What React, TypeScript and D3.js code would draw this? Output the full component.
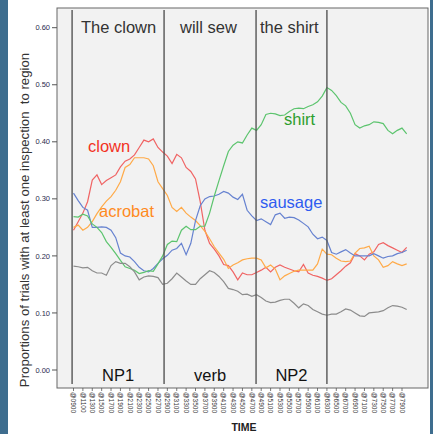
import React from "react";
import * as d3 from "d3";

const times: number[] = d3.range(900, 8001, 100);

const clown = [0.245,0.26,0.275,0.295,0.333,0.342,0.325,0.332,0.337,0.342,0.356,0.366,0.37,0.377,0.39,0.403,0.40,0.405,0.39,0.382,0.375,0.362,0.378,0.372,0.355,0.348,0.335,0.295,0.245,0.222,0.212,0.2,0.185,0.183,0.172,0.158,0.17,0.167,0.167,0.171,0.175,0.18,0.172,0.18,0.184,0.18,0.177,0.174,0.172,0.185,0.17,0.166,0.164,0.161,0.157,0.16,0.167,0.174,0.182,0.188,0.204,0.2,0.193,0.203,0.207,0.22,0.223,0.218,0.214,0.21,0.206,0.215];
const acrobat = [0.25,0.254,0.245,0.25,0.26,0.274,0.286,0.296,0.304,0.315,0.33,0.355,0.36,0.372,0.372,0.372,0.37,0.358,0.33,0.318,0.306,0.285,0.278,0.285,0.275,0.268,0.262,0.253,0.243,0.23,0.216,0.205,0.194,0.178,0.184,0.188,0.193,0.195,0.196,0.196,0.193,0.179,0.184,0.177,0.158,0.165,0.169,0.173,0.175,0.175,0.175,0.175,0.186,0.212,0.203,0.202,0.196,0.191,0.19,0.191,0.205,0.213,0.214,0.217,0.2,0.193,0.18,0.183,0.19,0.186,0.183,0.186];
const sausage = [0.31,0.297,0.285,0.28,0.25,0.25,0.251,0.25,0.245,0.232,0.205,0.2,0.198,0.19,0.18,0.174,0.172,0.178,0.187,0.195,0.201,0.21,0.213,0.222,0.202,0.222,0.262,0.288,0.3,0.304,0.305,0.308,0.313,0.31,0.303,0.299,0.308,0.28,0.27,0.262,0.265,0.26,0.255,0.272,0.275,0.266,0.268,0.267,0.263,0.257,0.251,0.238,0.23,0.233,0.227,0.206,0.203,0.207,0.211,0.205,0.2,0.2,0.2,0.2,0.204,0.2,0.196,0.199,0.2,0.204,0.206,0.21];
const shirt = [0.269,0.268,0.273,0.27,0.256,0.25,0.241,0.225,0.215,0.204,0.192,0.181,0.178,0.175,0.169,0.171,0.174,0.173,0.186,0.2,0.22,0.226,0.225,0.245,0.252,0.246,0.246,0.252,0.252,0.275,0.305,0.332,0.358,0.383,0.394,0.4,0.398,0.412,0.424,0.42,0.43,0.448,0.45,0.449,0.446,0.447,0.453,0.458,0.459,0.458,0.462,0.465,0.47,0.48,0.495,0.49,0.481,0.469,0.463,0.45,0.43,0.424,0.428,0.43,0.435,0.434,0.432,0.42,0.414,0.42,0.424,0.414];
const other = [0.182,0.181,0.179,0.18,0.174,0.17,0.17,0.166,0.183,0.19,0.187,0.187,0.181,0.172,0.158,0.163,0.165,0.164,0.162,0.15,0.152,0.16,0.17,0.163,0.156,0.15,0.15,0.16,0.167,0.174,0.171,0.164,0.155,0.143,0.141,0.138,0.132,0.133,0.129,0.132,0.127,0.121,0.118,0.119,0.122,0.124,0.124,0.117,0.109,0.116,0.113,0.106,0.102,0.098,0.096,0.098,0.098,0.102,0.107,0.105,0.1,0.095,0.094,0.1,0.101,0.102,0.104,0.109,0.113,0.112,0.11,0.106];

const seriesNames = ["clown", "acrobat", "sausage", "shirt", "other"];
const seriesValues = [clown, acrobat, sausage, shirt, other];
const lineColors = ["#f06464", "#ffaa48", "#6682d0", "#5cc46e", "#8c8c8c"];

const yTicks = [0, 0.1, 0.2, 0.3, 0.4, 0.5, 0.6];
const xTickTimes: number[] = d3.range(900, 7901, 200);

const regionBounds = [870, 2830, 4790, 6300];
const topPhrases = ["The clown", "will sew", "the shirt"];
const bottomLabels = ["NP1", "verb", "NP2"];

const seriesLabels = ["clown", "acrobat", "shirt", "sausage"];
const seriesLabelColors = ["#f2331f", "#ff8a1e", "#2e9e2e", "#2f5cf0"];
const seriesLabelPos = [[88, 152], [99, 217], [284, 125], [260, 208]];
const topPhraseX = [81, 180, 260];

export default function App() {
  const x = d3.scaleLinear().domain([900, 7900]).range([73.5, 402]);
  const y = d3.scaleLinear().domain([0, 0.6]).range([370, 27.7]);
  const line = d3.line<number>().x((_, i) => x(times[i])).y((d) => y(d));

  const frame = { x0: 57, y0: 8, x1: 428, y1: 388 };
  const fmtTime = (t: number) => "@" + String(t).padStart(4, "0");

  return (
    <svg width={433} height={434} style={{ position: "absolute", left: 0, top: 0, fontFamily: "Arial, 'Liberation Sans', sans-serif" }}>
      <rect x={0} y={0} width={433} height={434} fill="#ffffff" />
      <rect x={0} y={0} width={8} height={434} fill="#3e6d8e" />
      <rect x={430} y={0} width={3} height={434} fill="#3e6d8e" />
      <rect x={frame.x0} y={frame.y0} width={frame.x1 - frame.x0} height={frame.y1 - frame.y0} fill="#f2f2f2" stroke="#666" strokeWidth={1} />

      {yTicks.map((t) => (
        <g key={t}>
          <line x1={52} x2={frame.x0} y1={y(t)} y2={y(t)} stroke="#555" strokeWidth={1} />
          <text x={50} y={y(t)} dy="0.35em" textAnchor="end" fontSize={7.5} fill="#2c2c4c">{t.toFixed(2)}</text>
        </g>
      ))}

      {xTickTimes.map((t) => (
        <g key={t}>
          <line x1={x(t)} x2={x(t)} y1={frame.y1} y2={frame.y1 + 3} stroke="#555" strokeWidth={0.8} />
          <text transform={`translate(${x(t)},${frame.y1 + 4}) rotate(90)`} dy="0.35em" fontSize={6.5} fill="#333">{fmtTime(t)}</text>
        </g>
      ))}

      <text x={244} y={431} textAnchor="middle" fontSize={10.5} fontWeight="bold" fill="#222">TIME</text>

      <text transform={`translate(29,220) rotate(-90)`} textAnchor="middle" fontSize={13.2} fill="#333" style={{ whiteSpace: "pre" }}>
        {"Proportions of trials with at least one inspection  to region"}
      </text>

      {seriesValues.map((vals, k) => (
        <path key={seriesNames[k]} d={line(vals) || ""} fill="none" stroke={lineColors[k]} strokeWidth={1.2} />
      ))}

      {regionBounds.map((t) => (
        <line key={t} x1={x(t)} x2={x(t)} y1={10} y2={384} stroke="#555" strokeWidth={1.4} />
      ))}

      {topPhrases.map((p, i) => (
        <text key={p} x={topPhraseX[i]} y={33} fontSize={16.5} fill="#333">{p}</text>
      ))}
      {bottomLabels.map((p, i) => (
        <text key={p} x={(x(regionBounds[i]) + x(regionBounds[i + 1])) / 2} y={381} textAnchor="middle" fontSize={16.5} fill="#111">{p}</text>
      ))}

      {seriesLabels.map((s, i) => (
        <text key={s} x={seriesLabelPos[i][0]} y={seriesLabelPos[i][1]} fontSize={16.5} fill={seriesLabelColors[i]}>{s}</text>
      ))}
    </svg>
  );
}
